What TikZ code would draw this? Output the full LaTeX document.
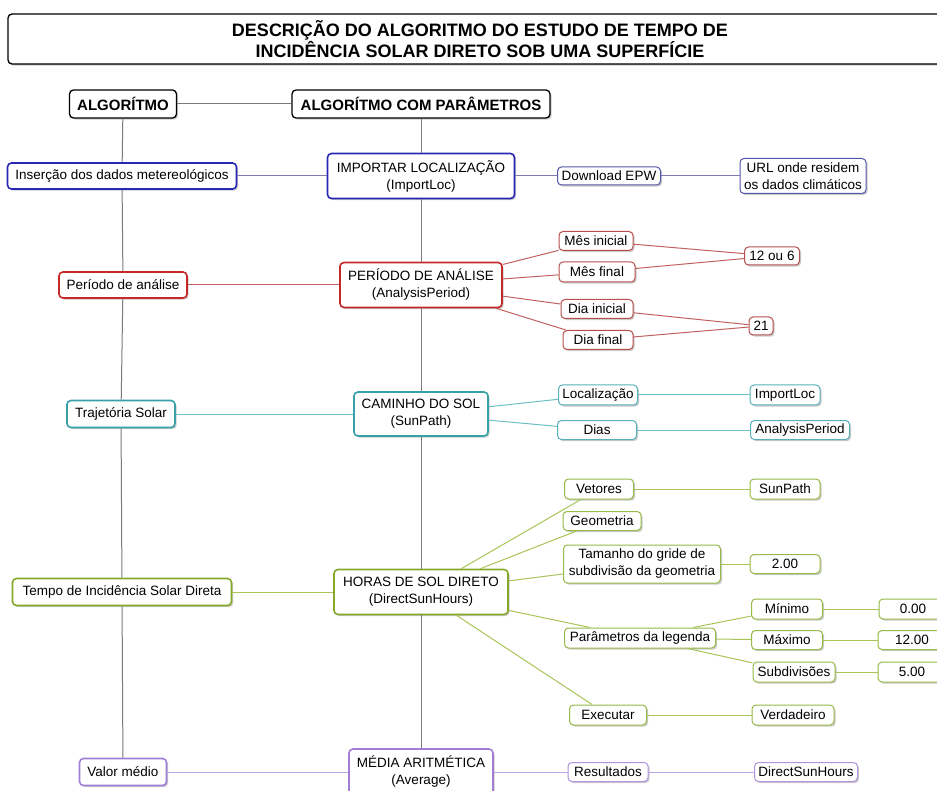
\documentclass[tikz,border=0pt]{standalone}
\usepackage{fontspec}
\setmainfont{Liberation Sans}
\usetikzlibrary{shadows}
\definecolor{bluemain}{HTML}{2828B4}
\definecolor{bluesub}{HTML}{5656A8}
\definecolor{blueline}{HTML}{7C7CB2}
\definecolor{redmain}{HTML}{C42828}
\definecolor{redsub}{HTML}{B84E4E}
\definecolor{redline}{HTML}{C26060}
\definecolor{tealmain}{HTML}{38A0A8}
\definecolor{tealsub}{HTML}{58B0B8}
\definecolor{tealline}{HTML}{6CC0C6}
\definecolor{greenmain}{HTML}{84A82A}
\definecolor{greensub}{HTML}{98B848}
\definecolor{greenline}{HTML}{A8C458}
\definecolor{purplemain}{HTML}{A07ED6}
\definecolor{purplesub}{HTML}{B094E0}
\definecolor{purpleline}{HTML}{BCA6E6}
\definecolor{trunk}{HTML}{7A7A7A}
\tikzset{
  box/.style={draw, rounded corners=4pt, fill=white, align=center, inner sep=1pt,
    font=\fontsize{13.5}{17}\selectfont,
    drop shadow={shadow xshift=1.6pt, shadow yshift=-1.6pt, fill=black!45, opacity=0.45}},
  hdr/.style={box, draw=black, line width=1.3pt, font=\bfseries\fontsize{15}{18}\selectfont},
  ttl/.style={box, draw=black, line width=1.3pt, font=\bfseries\fontsize{18}{18.5}\selectfont},
  mainc/.style={box, draw=#1main, line width=1.6pt},
  subc/.style={box, draw=#1sub, line width=1pt},
  lnc/.style={draw=#1line, line width=1pt},
  trk/.style={draw=trunk, line width=1pt},
}
\begin{document}
\begin{tikzpicture}[x=1pt,y=-1pt]
\useasboundingbox (0,0) rectangle (937,791);
\clip (0,0) rectangle (937,791);
% title
\node[ttl, minimum width=944pt, minimum height=50pt] (title) at (480,39)
  {DESCRIÇÃO DO ALGORITMO DO ESTUDO DE TEMPO DE\\INCIDÊNCIA SOLAR DIRETO SOB UMA SUPERFÍCIE};
% headers
\node[hdr, minimum width=107pt, minimum height=28pt] (hA) at (123,104) {ALGORÍTMO};
\node[hdr, minimum width=258pt, minimum height=28pt] (hB) at (421,104) {ALGORÍTMO COM PARÂMETROS};
% left column
\node[mainc=blue, minimum width=229pt, minimum height=26pt] (l1) at (122,176) {Inserção dos dados metereológicos};
\node[mainc=red, minimum width=128pt, minimum height=26pt] (l2) at (123,285) {Período de análise};
\node[mainc=teal, minimum width=108pt, minimum height=27pt] (l3) at (121,414) {Trajetória Solar};
\node[mainc=green, minimum width=219pt, minimum height=27pt] (l4) at (122,592) {Tempo de Incidência Solar Direta};
\node[mainc=purple, minimum width=87pt, minimum height=27pt] (l5) at (123,772) {Valor médio};
% middle column
\node[mainc=blue, minimum width=187pt, minimum height=45pt] (m1) at (421,176) {IMPORTAR LOCALIZAÇÃO\\(ImportLoc)};
\node[mainc=red, minimum width=162pt, minimum height=45pt] (m2) at (421,285) {PERÍODO DE ANÁLISE\\(AnalysisPeriod)};
\node[mainc=teal, minimum width=134pt, minimum height=44pt] (m3) at (421,414) {CAMINHO DO SOL\\(SunPath)};
\node[mainc=green, minimum width=174pt, minimum height=45pt] (m4) at (421,592) {HORAS DE SOL DIRETO\\(DirectSunHours)};
\node[mainc=purple, minimum width=144pt, minimum height=46pt] (m5) at (421,772) {MÉDIA ARITMÉTICA\\(Average)};
% blue branch
\node[subc=blue, minimum width=103pt, minimum height=18pt] (dl) at (609,176) {Download EPW};
\node[subc=blue, minimum width=126pt, minimum height=35pt] (url) at (803,176) {URL onde residem\\os dados climáticos};
% red branch
\node[subc=red, minimum width=74pt, minimum height=19pt] (mi) at (596,241) {Mês inicial};
\node[subc=red, minimum width=76pt, minimum height=20pt] (mf) at (597,272) {Mês final};
\node[subc=red, minimum width=72pt, minimum height=19pt] (di) at (597,309) {Dia inicial};
\node[subc=red, minimum width=70pt, minimum height=19pt] (df) at (598,340) {Dia final};
\node[subc=red, minimum width=55pt, minimum height=18pt] (v12) at (772,256) {12 ou 6};
\node[subc=red, minimum width=24pt, minimum height=18pt] (v21) at (761,326) {21};
% teal branch
\node[subc=teal, minimum width=79pt, minimum height=20pt] (loc) at (598,395) {Localização};
\node[subc=teal, minimum width=79pt, minimum height=19pt] (dias) at (597,430) {Dias};
\node[subc=teal, minimum width=70pt, minimum height=20pt] (iloc) at (785,395) {ImportLoc};
\node[subc=teal, minimum width=99pt, minimum height=19pt] (aper) at (800,430) {AnalysisPeriod};
% green branch
\node[subc=green, minimum width=69pt, minimum height=20pt] (vet) at (599,489) {Vetores};
\node[subc=green, minimum width=70pt, minimum height=20pt] (spath) at (785,489) {SunPath};
\node[subc=green, minimum width=78pt, minimum height=19pt] (geo) at (602,521) {Geometria};
\node[subc=green, minimum width=157pt, minimum height=38pt] (tam) at (642,564) {Tamanho do gride de\\subdivisão da geometria};
\node[subc=green, minimum width=70pt, minimum height=19pt] (v2) at (785,564) {2.00};
\node[subc=green, minimum width=151pt, minimum height=20pt] (par) at (640,638) {Parâmetros da legenda};
\node[subc=green, minimum width=71pt, minimum height=20pt] (min) at (787,609) {Mínimo};
\node[subc=green, minimum width=71pt, minimum height=19pt] (max) at (787,640) {Máximo};
\node[subc=green, minimum width=82pt, minimum height=20pt] (sub) at (794,672) {Subdivisões};
\node[subc=green, minimum width=68pt, minimum height=20pt] (v0) at (913,609) {0.00};
\node[subc=green, minimum width=68pt, minimum height=19pt] (v12b) at (912,640) {12.00};
\node[subc=green, minimum width=68pt, minimum height=20pt] (v5) at (912,672) {5.00};
\node[subc=green, minimum width=77pt, minimum height=20pt] (exe) at (608,715) {Executar};
\node[subc=green, minimum width=82pt, minimum height=20pt] (ver) at (793,715) {Verdadeiro};
% purple branch
\node[subc=purple, minimum width=80pt, minimum height=19pt] (res) at (608,772) {Resultados};
\node[subc=purple, minimum width=103pt, minimum height=19pt] (dsh) at (806,772) {DirectSunHours};
% connectors
\draw[trk] (hA) -- (hB);
\draw[trk] (hA) -- (l1); \draw[trk] (l1) -- (l2); \draw[trk] (l2) -- (l3);
\draw[trk] (l3) -- (l4); \draw[trk] (l4) -- (l5);
\draw[trk] (hB) -- (m1); \draw[trk] (m1) -- (m2); \draw[trk] (m2) -- (m3);
\draw[trk] (m3) -- (m4); \draw[trk] (m4) -- (m5);
\draw[lnc=blue] (l1) -- (m1);
\draw[lnc=red] (l2) -- (m2);
\draw[lnc=teal] (l3) -- (m3);
\draw[lnc=green] (l4) -- (m4);
\draw[lnc=purple] (l5) -- (m5);
\draw[lnc=blue] (m1) -- (dl); \draw[lnc=blue] (dl) -- (url);
\draw[lnc=red] (m2) -- (mi); \draw[lnc=red] (m2) -- (mf);
\draw[lnc=red] (m2) -- (di); \draw[lnc=red] (m2) -- (df);
\draw[lnc=red] (mi) -- (v12); \draw[lnc=red] (mf) -- (v12);
\draw[lnc=red] (di) -- (v21); \draw[lnc=red] (df) -- (v21);
\draw[lnc=teal] (m3) -- (loc); \draw[lnc=teal] (m3) -- (dias);
\draw[lnc=teal] (loc) -- (iloc); \draw[lnc=teal] (dias) -- (aper);
\draw[lnc=green] (m4) -- (vet); \draw[lnc=green] (m4) -- (geo);
\draw[lnc=green] (m4) -- (tam); \draw[lnc=green] (m4) -- (par);
\draw[lnc=green] (m4) -- (exe);
\draw[lnc=green] (vet) -- (spath); \draw[lnc=green] (tam) -- (v2);
\draw[lnc=green] (par) -- (min); \draw[lnc=green] (par) -- (max); \draw[lnc=green] (par) -- (sub);
\draw[lnc=green] (min) -- (v0); \draw[lnc=green] (max) -- (v12b); \draw[lnc=green] (sub) -- (v5);
\draw[lnc=green] (exe) -- (ver);
\draw[lnc=purple] (m5) -- (res); \draw[lnc=purple] (res) -- (dsh);
\end{tikzpicture}
\end{document}
